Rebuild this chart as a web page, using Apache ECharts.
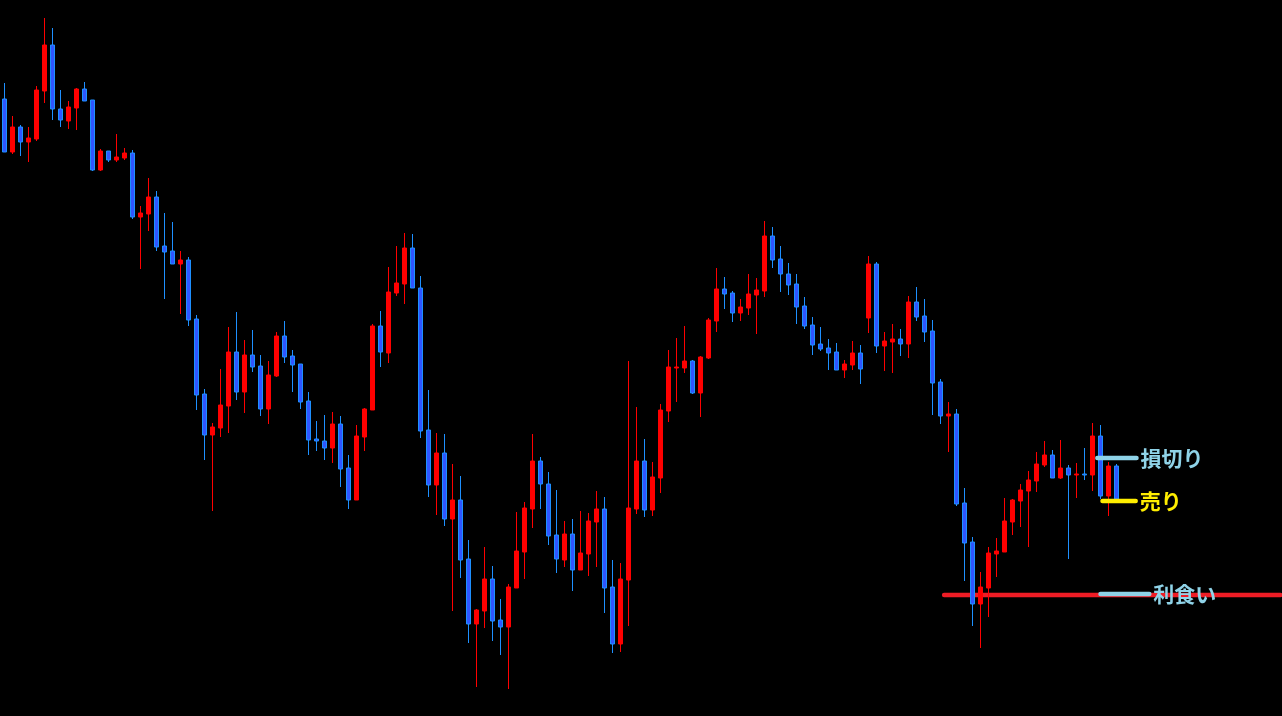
<!DOCTYPE html>
<html>
<head>
<meta charset="utf-8">
<script src="https://cdn.jsdelivr.net/npm/echarts@6/dist/echarts.min.js"></script>
<style>
html,body{margin:0;padding:0;background:#000;}
#chart{width:1282px;height:716px;}
</style>
</head>
<body>
<div id="chart"></div>
<script>
// Price scale is arbitrary (chart has no visible axes).
const opens = [617,564,589,574,577,625,671,607,595,608,
627,616,546,565,556,558,563,499,502,519,
470,465,452,456,397,322,281,288,310,364,
324,361,350,307,340,380,360,352,315,277,
275,268,292,248,216,279,306,390,363,423,
432,468,428,286,231,263,197,216,157,92,
105,137,96,89,128,164,207,255,232,181,
156,182,146,162,194,207,129,72,136,207,
255,206,238,305,348,348,355,323,358,395,
427,423,403,408,421,425,480,457,442,432,
410,391,372,368,364,346,351,363,398,452,
370,374,377,372,414,400,385,334,300,302,
213,174,112,128,162,164,194,215,225,235,
251,261,238,248,241,242,241,280,220,250];
const closes = [564,589,574,578,626,671,607,596,609,627,
615,546,565,556,559,563,499,503,519,469,
464,452,456,396,321,281,289,311,364,324,
361,349,307,341,380,359,351,314,276,275,
268,292,247,216,280,307,390,364,424,433,
468,428,285,231,263,197,216,156,92,106,
137,95,89,129,165,208,255,232,180,157,
182,146,163,195,207,128,72,137,208,255,
206,239,306,349,349,355,323,359,396,427,
422,403,409,422,426,480,456,442,431,409,
390,371,367,363,346,352,363,347,452,370,
375,377,372,414,399,384,333,300,302,212,
173,112,129,163,165,195,216,226,236,252,
261,238,248,241,242,241,280,220,250,217];
const lows = [564,562,560,554,575,613,596,589,587,586,
615,545,545,554,554,556,497,447,485,465,
417,452,402,390,306,256,205,279,283,316,
303,344,300,292,339,353,324,307,261,265,
256,253,229,207,216,265,306,349,353,420,
412,428,278,219,201,190,105,138,73,29,
88,75,61,27,128,137,188,207,171,143,
149,125,146,140,149,103,63,64,90,202,
199,200,223,294,314,343,322,299,357,384,
407,394,395,401,382,419,448,424,421,392,
387,361,365,346,346,338,346,332,383,363,
345,343,360,358,395,374,301,292,264,210,
135,90,68,99,139,164,181,189,169,224,
249,238,237,157,218,236,225,217,200,217];
const highs = [633,600,591,589,630,698,688,626,615,628,
634,616,567,565,582,568,566,510,538,525,
503,494,465,459,401,327,293,347,389,404,
376,386,361,355,384,395,366,352,324,295,
301,304,300,261,291,308,392,405,449,470,
483,482,440,326,283,282,252,240,176,107,
169,150,117,132,204,214,282,259,244,226,
195,197,205,203,225,219,156,153,355,309,
277,254,312,366,378,390,356,360,398,448,
439,425,417,442,438,495,489,470,453,442,
419,399,389,377,373,356,375,371,460,454,
384,392,387,420,429,417,396,337,314,307,
228,179,144,169,178,218,217,232,245,264,
275,266,276,251,253,268,293,291,254,252];

// bar slots (140 bars + empty future space)
const categories = Array.from({length: 160}, (_, i) => String(i));

// Drawn horizontal levels: [start bar position, end bar position, price]
const stopLoss   = [137.1, 142.0, 258];
const sellEntry  = [137.75, 141.9, 215];
const takeProfitMark = [137.5, 143.6, 122];
const takeProfitLine = [117.95, 160, 121];
const labels = { stop: '損切り', sell: '売り', tp: '利食い' };

const candleData = opens.map((o, i) => [o, closes[i], lows[i], highs[i]]);

function levelSeries(level, color, width, text, zIndex) {
  const s = {
    type: 'line',
    xAxisIndex: 1,
    yAxisIndex: 0,
    data: [[level[0], level[2]], [level[1], level[2]]],
    symbol: 'none',
    silent: true,
    z: zIndex,
    lineStyle: { color: color, width: width, cap: 'round' }
  };
  if (text) {
    s.endLabel = {
      show: true,
      formatter: text,
      color: color,
      fontSize: 21,
      fontWeight: 'bold',
      fontFamily: '"Noto Sans CJK JP", sans-serif',
      distance: 4
    };
  }
  return s;
}

const chart = echarts.init(document.getElementById('chart'), null, { renderer: 'canvas' });
chart.setOption({
  backgroundColor: '#000000',
  animation: false,
  grid: { left: 0.5, right: 1.5, top: 0, bottom: 0 },
  xAxis: [
    { type: 'category', data: categories, show: false, boundaryGap: true },
    { type: 'value', min: 0, max: 160, show: false }
  ],
  yAxis: { type: 'value', min: 0, max: 716, show: false },
  series: [
    levelSeries(takeProfitLine, '#ee1c25', 4.5, null, 1),
    {
      type: 'candlestick',
      data: candleData,
      barWidth: 4,
      z: 2,
      itemStyle: {
        color: '#ff0000',
        color0: '#2f55ff',
        borderColor: '#ff0000',
        borderColor0: '#1e90ff',
        borderWidth: 1
      }
    },
    levelSeries(stopLoss, '#8fd3e8', 4.5, labels.stop, 3),
    levelSeries(sellEntry, '#ffee00', 4.5, labels.sell, 3),
    levelSeries(takeProfitMark, '#8fd3e8', 4.5, labels.tp, 3)
  ]
});
</script>
</body>
</html>
